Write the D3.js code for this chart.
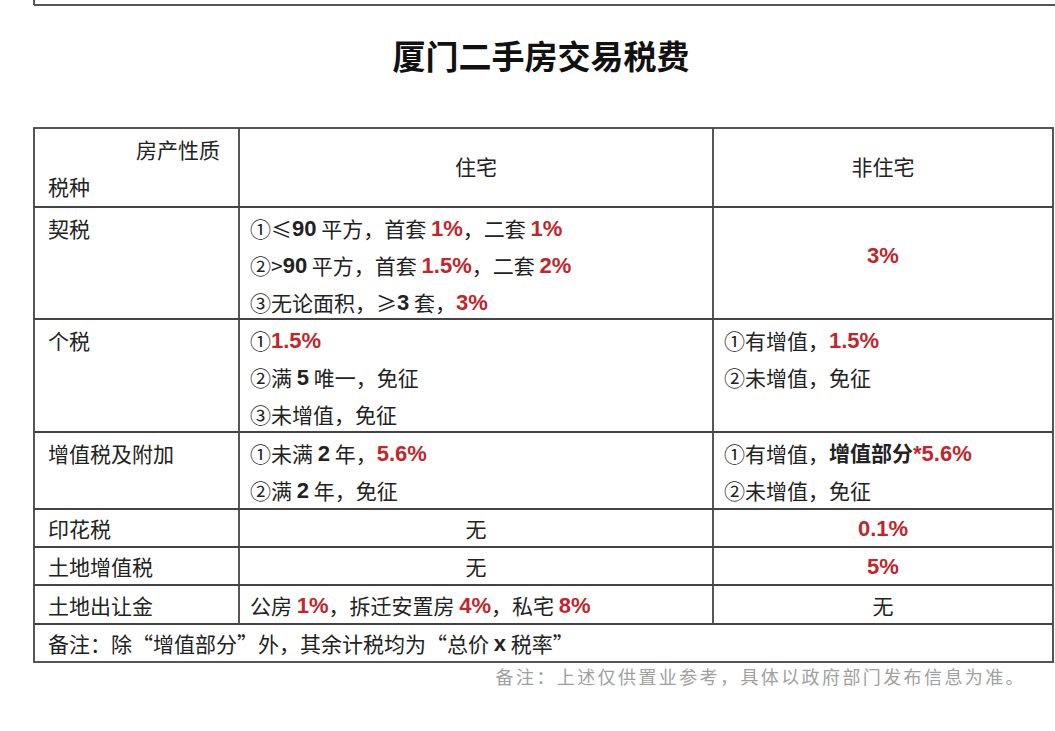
<!DOCTYPE html>
<html>
<head>
<meta charset="utf-8">
<script src="https://cdn.jsdelivr.net/npm/d3@7"></script>
<style>
body { margin: 0; background: #fff; }
svg text { font-family: "Noto Sans CJK SC", "Liberation Sans", sans-serif; }
</style>
</head>
<body>
<svg id="chart" width="1055" height="731"></svg>
<script>
var title = "厦门二手房交易税费";
var colHeads = ["住宅", "非住宅"];
var rowNames = ["契税", "个税", "增值税及附加", "印花税", "土地增值税", "土地出让金"];
// each cell: list of lines, each line a list of [text, style] ('' normal, 'b' bold, 'r' red bold)
var homeCells = [
  [[["①≤", ""], ["90", "b"], [" 平方，首套 ", ""], ["1%", "r"], ["，二套 ", ""], ["1%", "r"]],
   [["②>", ""], ["90", "b"], [" 平方，首套 ", ""], ["1.5%", "r"], ["，二套 ", ""], ["2%", "r"]],
   [["③无论面积，≥", ""], ["3", "b"], [" 套，", ""], ["3%", "r"]]],
  [[["①", ""], ["1.5%", "r"]], [["②满 ", ""], ["5", "b"], [" 唯一，免征", ""]], [["③未增值，免征", ""]]],
  [[["①未满 ", ""], ["2", "b"], [" 年，", ""], ["5.6%", "r"]], [["②满 ", ""], ["2", "b"], [" 年，免征", ""]]],
  [[["无", ""]]],
  [[["无", ""]]],
  [[["公房 ", ""], ["1%", "r"], ["，拆迁安置房 ", ""], ["4%", "r"], ["，私宅 ", ""], ["8%", "r"]]]
];
var otherCells = [
  [[["3%", "r"]]],
  [[["①有增值，", ""], ["1.5%", "r"]], [["②未增值，免征", ""]]],
  [[["①有增值，", ""], ["增值部分", "b"], ["*5.6%", "r"]], [["②未增值，免征", ""]]],
  [[["0.1%", "r"]]],
  [[["5%", "r"]]],
  [[["无", ""]]]
];
var homeAlign = ["left", "left", "left", "middle", "middle", "left"];
var otherAlign = ["middle", "left", "left", "middle", "middle", "middle"];
var note = [["备注：除“增值部分”外，其余计税均为“总价 ", ""], ["x", "b"], [" 税率”", ""]];
var footer = "备注：上述仅供置业参考，具体以政府部门发布信息为准。";
var rowHeights = [112, 113, 77, 38, 38, 39];

var svg = d3.select("#chart");
var x0 = 34, x1 = 239, x2 = 713, x3 = 1053;
var headTop = 128, headBottom = 207;
var tops = [headBottom];
rowHeights.forEach(function(h) { tops.push(tops[tops.length - 1] + h); });
var noteBottom = tops[tops.length - 1] + 38;

// top frame remnant
svg.append("line").attr("x1", x0).attr("x2", 1055).attr("y1", 5).attr("y2", 5)
  .attr("stroke", "#555").attr("stroke-width", 2);
svg.append("line").attr("x1", x0).attr("x2", x0).attr("y1", 0).attr("y2", 5)
  .attr("stroke", "#555").attr("stroke-width", 2);

svg.append("text").attr("x", 541).attr("y", 69).attr("text-anchor", "middle")
  .attr("font-size", 33).attr("font-weight", "bold").attr("fill", "#111").text(title);

var grid = svg.append("g").attr("stroke", "#444").attr("stroke-width", 1.8);
grid.append("rect").attr("x", x0).attr("y", headTop).attr("width", x3 - x0).attr("height", noteBottom - headTop)
  .attr("fill", "none");
[headBottom].concat(tops.slice(1)).forEach(function(y) {
  grid.append("line").attr("x1", x0).attr("x2", x3).attr("y1", y).attr("y2", y);
});
[x1, x2].forEach(function(x) {
  grid.append("line").attr("x1", x).attr("x2", x).attr("y1", headTop).attr("y2", tops[tops.length - 1]);
});

function addText(x, y, segs, anchor) {
  var t = svg.append("text").attr("x", x).attr("y", y).attr("text-anchor", anchor)
    .attr("font-size", 21).attr("fill", "#222").attr("dominant-baseline", "central");
  segs.forEach(function(s) {
    t.append("tspan").text(s[0])
      .attr("font-weight", s[1] ? "bold" : "normal")
      .attr("font-size", s[1] && /^[\d.%*x]+$/.test(s[0]) ? 22 : null)
      .attr("font-family", s[1] ? "'Liberation Sans', 'Noto Sans CJK SC', sans-serif" : null)
      .attr("fill", s[1] === "r" ? "#c0272d" : "#222");
  });
  return t;
}

addText(220, 149, [["房产性质", ""]], "end");
addText(48, 186, [["税种", ""]], "start");
addText((x1 + x2) / 2, 166, [[colHeads[0], ""]], "middle");
addText((x2 + x3) / 2, 166, [[colHeads[1], ""]], "middle");

rowNames.forEach(function(name, i) {
  var top = tops[i], h = rowHeights[i];
  var single = h < 50;
  var first = single ? top + h / 2 : top + 21;
  addText(48, first, [[name, ""]], "start");
  function cell(lines, align, left, right) {
    var mid = single ? top + h / 2 : top + h / 2 - 8;
    lines.forEach(function(line, k) {
      var y = lines.length === 1 && align === "middle" ? mid : (single ? mid : first + k * 37);
      if (align === "middle") addText((left + right) / 2, y, line, "middle");
      else addText(left + 11, y, line, "start");
    });
  }
  cell(homeCells[i], homeAlign[i], x1, x2);
  cell(otherCells[i], otherAlign[i], x2, x3);
});

addText(48, (tops[tops.length - 1] + noteBottom) / 2, note, "start");

svg.append("text").attr("x", 1026).attr("y", 684).attr("text-anchor", "end")
  .attr("font-size", 18).attr("letter-spacing", 2.4).attr("fill", "#a0a0a0").text(footer);
</script>
</body>
</html>
